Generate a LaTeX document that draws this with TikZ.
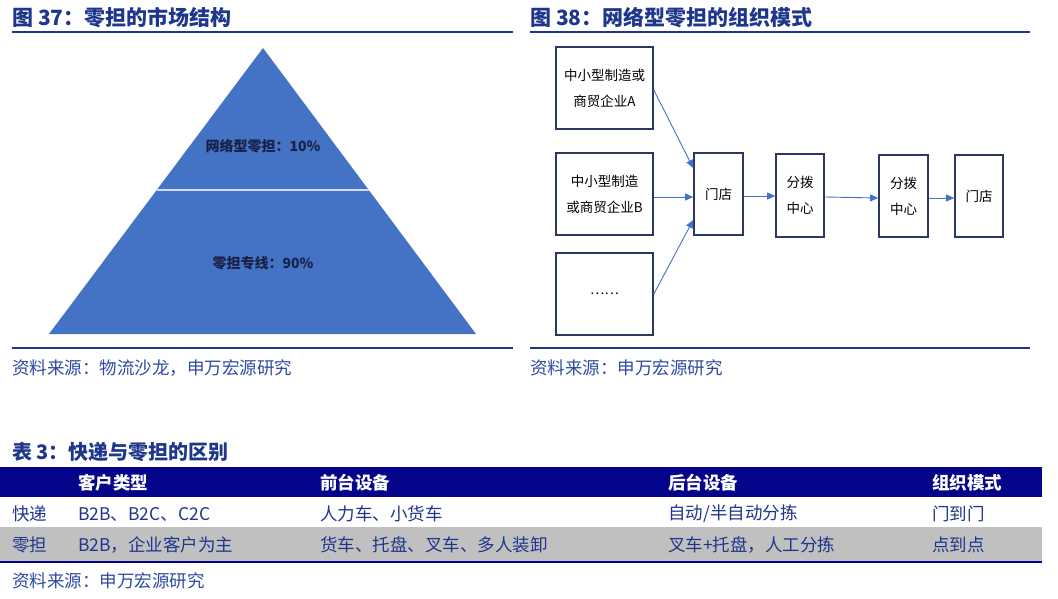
\documentclass[tikz,border=0pt]{standalone}
\usepackage{fontspec}
\setmainfont{Noto Sans CJK SC}
\usepackage{tikz}
\usetikzlibrary{arrows.meta, positioning}
\usepackage{xcolor}

\definecolor{titleblue}{RGB}{30,55,140}
\definecolor{srcblue}{RGB}{45,75,160}
\definecolor{pyrblue}{RGB}{68,114,196}
\definecolor{pyrtext}{RGB}{25,32,70}
\definecolor{boxline}{RGB}{45,55,100}
\definecolor{headnavy}{RGB}{5,5,140}
\definecolor{rowgray}{RGB}{192,192,192}

\tikzset{
  figtitle/.style={anchor=west, inner sep=0pt, text=titleblue, font=\fontsize{21}{24}\selectfont\bfseries},
  source/.style={anchor=west, inner sep=0pt, text=srcblue, font=\fontsize{17.5}{20}\selectfont},
  rule/.style={draw=titleblue, line width=2.2pt},
  pyrlabel/.style={inner sep=0pt, text=pyrtext, font=\fontsize{14}{16}\selectfont\bfseries},
  flowbox/.style={draw=boxline, line width=1.6pt, align=center, inner sep=0pt,
    font=\fontsize{13.5}{26}\selectfont},
  flow/.style={draw=pyrblue, line width=0.9pt, -{Triangle[length=8pt,width=7pt]}},
  cell/.style={anchor=west, inner sep=0pt, text=titleblue, font=\fontsize{17.5}{20}\selectfont},
  headcell/.style={cell, text=white, font=\fontsize{17.5}{20}\selectfont\bfseries}
}

\begin{document}
\begin{tikzpicture}[x=1pt, y=-1pt]
    \useasboundingbox[fill=white] (0,0) rectangle (1058,599);

    % figure 37: pyramid
    \node[figtitle] (t37) at (12,18) {图 37：零担的市场结构};
    \draw[rule] (12,32) -- (513,32);
    \fill[pyrblue] (263,48) -- (476,334) -- (49,334) -- cycle;
    \draw[white!75!pyrblue, line width=1.5pt] (157,190) -- (369,190);
    \node[pyrlabel] (net) at (263,146) {网络型零担：10\%};
    \node[pyrlabel] (line) at (263,263) {零担专线：90\%};
    \draw[rule] (12,348) -- (513,348);
    \node[source] (src37) at (12,368) {资料来源：物流沙龙，申万宏源研究};

    % figure 38: network
    \node[figtitle] (t38) at (530,18) {图 38：网络型零担的组织模式};
    \draw[rule] (530,32) -- (1030,32);
    \node[flowbox, minimum width=97pt, minimum height=82pt] (coA) at (604.5,88) {中小型制造或\\商贸企业A};
    \node[flowbox, minimum width=97pt, minimum height=82pt] (coB) at (604.5,194) {中小型制造\\或商贸企业B};
    \node[flowbox, minimum width=97pt, minimum height=82pt] (coN) at (604.5,294) {……};
    \node[flowbox, minimum width=49pt, minimum height=82pt] (store1) at (718.5,194) {门店};
    \node[flowbox, minimum width=48pt, minimum height=83pt] (hub1) at (800,195.5) {分拨\\中心};
    \node[flowbox, minimum width=49pt, minimum height=82pt] (hub2) at (903.5,196) {分拨\\中心};
    \node[flowbox, minimum width=48pt, minimum height=82pt] (store2) at (979,196) {门店};
    \draw[flow] ([yshift=-2pt]coA.east) -- ([yshift=26pt]store1.west);
    \draw[flow] ([yshift=-3pt]coB.east) -- ([yshift=-3pt]store1.west);
    \draw[flow] (coN.east) -- ([yshift=-26pt]store1.west);
    \draw[flow] ([yshift=-2pt]store1.east) -- ([yshift=-0.5pt]hub1.west);
    \draw[flow] ([yshift=-1.5pt]hub1.east) -- ([yshift=-2pt]hub2.west);
    \draw[flow] ([yshift=-2pt]hub2.east) -- ([yshift=-2pt]store2.west);
    \draw[rule] (530,348) -- (1030,348);
    \node[source] (src38) at (530,368) {资料来源：申万宏源研究};

    % table 3
    \node[figtitle, font=\fontsize{20}{23}\selectfont\bfseries] (t3) at (12,452) {表 3：快递与零担的区别};
    \fill[headnavy] (0,467) rectangle (1042,497);
    \fill[rowgray] (0,527) rectangle (1042,561);
    \draw[draw=headnavy, line width=2pt] (0,562) -- (1042,562);
    \node[headcell] (h1) at (78,483) {客户类型};
    \node[headcell] (h2) at (320,483) {前台设备};
    \node[headcell] (h3) at (668,483) {后台设备};
    \node[headcell] (h4) at (932,483) {组织模式};
    \node[cell] (r1a) at (12,514) {快递};
    \node[cell] (r1b) at (78,514) {B2B、B2C、C2C};
    \node[cell] (r1c) at (320,514) {人力车、小货车};
    \node[cell] (r1d) at (668,514) {自动/半自动分拣};
    \node[cell] (r1e) at (932,514) {门到门};
    \node[cell] (r2a) at (12,545) {零担};
    \node[cell] (r2b) at (78,545) {B2B，企业客户为主};
    \node[cell] (r2c) at (320,545) {货车、托盘、叉车、多人装卸};
    \node[cell] (r2d) at (668,545) {叉车+托盘，人工分拣};
    \node[cell] (r2e) at (932,545) {点到点};
    \node[source] (src3) at (12,581) {资料来源：申万宏源研究};
\end{tikzpicture}
\end{document}
